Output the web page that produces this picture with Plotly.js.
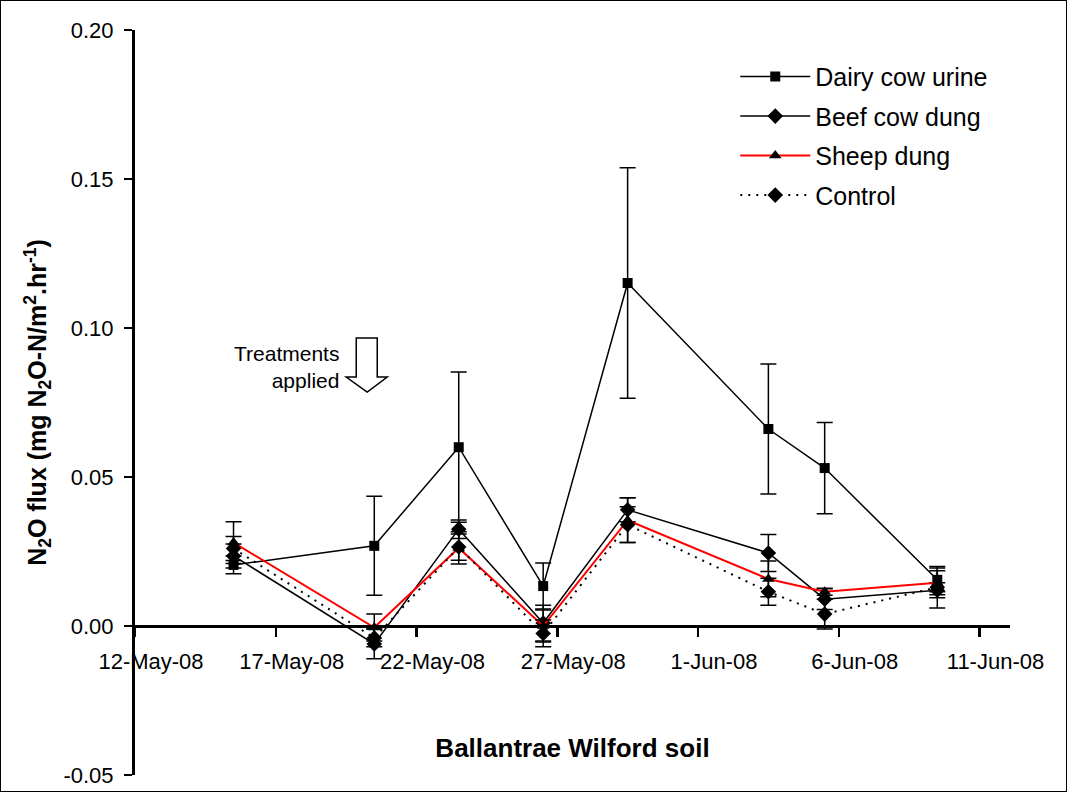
<!DOCTYPE html>
<html>
<head>
<meta charset="utf-8">
<script src="https://cdn.plot.ly/plotly-3.0.1.min.js"></script>
<style>
  html, body { margin: 0; padding: 0; background: #fff; }
  #frame { position: absolute; left: 0; top: 0; width: 1065px; height: 790px; border: 1px solid #000; }
  #chart { width: 1065px; height: 790px; }
</style>
</head>
<body>
<div id="frame"><div id="chart"></div></div>
<script>
// Sampling dates
const dates = ['2008-05-15 12:00','2008-05-20 12:00','2008-05-23 12:00','2008-05-26 12:00',
               '2008-05-29 12:00','2008-06-03 12:00','2008-06-05 12:00','2008-06-09 12:00'];

// N2O flux (mg N2O-N/m2.hr-1) and error bars
const dairyUrine    = [0.0205, 0.0269, 0.0600, 0.0134, 0.1151, 0.0661, 0.0530, 0.0155];
const dairyUrineErr = [0.0030, 0.0166, 0.0252, 0.0077, 0.0387, 0.0218, 0.0153, 0.0040];
const beefDung      = [0.0235, -0.0060, 0.0325, 0.0010, 0.0390, 0.0245, 0.0090, 0.0120];
const beefDungErr   = [0.0040, 0.0050, 0.0031, 0.0060, 0.0040, 0.0062, 0.0035, 0.0025];
const sheepDung     = [0.0280, -0.0005, 0.0262, 0.0000, 0.0355, 0.0158, 0.0115, 0.0145];
const sheepDungErr  = [0.0070, 0.0045, 0.0054, 0.0054, 0.0075, 0.0060, 0.0012, 0.0040];
const control       = [0.0260, -0.0040, 0.0265, -0.0025, 0.0340, 0.0115, 0.0040, 0.0130];
const controlErr    = [0.0040, 0.0030, 0.0044, 0.0045, 0.0060, 0.0045, 0.0050, 0.0070];

const seriesNames = ['Dairy cow urine', 'Beef cow dung', 'Sheep dung', 'Control'];
const xTickVals = ['2008-05-12','2008-05-17','2008-05-22','2008-05-27','2008-06-01','2008-06-06','2008-06-11'];
const xTickText = ['12-May-08','17-May-08','22-May-08','27-May-08','1-Jun-08','6-Jun-08','11-Jun-08'];
const yTickVals = [-0.05, 0, 0.05, 0.10, 0.15, 0.20];
const yTickText = ['-0.05', '0.00', '0.05', '0.10', '0.15', '0.20'];

const FONT = 'Liberation Sans, Arial, sans-serif';

function errBar(arr) {
  return { type: 'data', array: arr, visible: true, color: '#000', thickness: 1.5, width: 8 };
}

const traces = [
  { x: dates, y: dairyUrine, name: seriesNames[0], legendgroup: 'a', mode: 'lines+markers',
    line: { color: '#000', width: 1.5 },
    marker: { symbol: 'square', size: 10, color: '#000' },
    error_y: errBar(dairyUrineErr) },
  { x: dates, y: beefDung, name: seriesNames[1], legendgroup: 'b', mode: 'lines+markers',
    line: { color: '#000', width: 1.5 },
    marker: { symbol: 'diamond', size: 12, color: '#000' },
    error_y: errBar(beefDungErr) },
  { x: dates, y: sheepDung, name: seriesNames[2], legendgroup: 'c', mode: 'lines+markers',
    line: { color: '#ff0000', width: 2 },
    marker: { symbol: 'triangle-up', size: 11, color: '#000' },
    error_y: errBar(sheepDungErr) },
  { x: dates, y: control, name: seriesNames[3], legendgroup: 'd', mode: 'lines+markers',
    line: { color: '#000', width: 2, dash: '2px,6px' },
    marker: { symbol: 'diamond', size: 12, color: '#000' },
    error_y: errBar(controlErr) }
];

const layout = {
  width: 1065, height: 790,
  margin: { l: 134, r: 56, t: 29, b: 16, pad: 0 },
  paper_bgcolor: '#fff', plot_bgcolor: '#fff',
  font: { family: FONT, color: '#000', size: 22 },
  showlegend: true,
  legend: {
    x: 0.686, y: 0.968, xanchor: 'left', yanchor: 'top',
    font: { family: FONT, size: 25, color: '#000' },
    bgcolor: 'rgba(0,0,0,0)', borderwidth: 0,
    itemwidth: 70, tracegroupgap: 4
  },
  xaxis: {
    type: 'date',
    range: ['2008-05-12', '2008-06-12 02:00'],
    anchor: 'free', position: 0.2,
    tickmode: 'array', tickvals: xTickVals, ticktext: xTickText,
    ticks: 'outside', ticklen: 9, tickwidth: 2.5, tickcolor: '#000',
    ticklabelshift: 16, ticklabelstandoff: 6,
    showline: true, linewidth: 3, linecolor: '#000',
    showgrid: false, zeroline: false,
    tickfont: { family: FONT, size: 22, color: '#000' },
    title: { text: '<b>Ballantrae Wilford soil</b>', standoff: 65,
             font: { family: FONT, size: 26, color: '#000' } }
  },
  yaxis: {
    range: [-0.05, 0.20],
    tickmode: 'array', tickvals: yTickVals, ticktext: yTickText,
    ticks: 'outside', ticklen: 8, tickwidth: 2.5, tickcolor: '#000',
    ticklabelstandoff: 6,
    showline: true, linewidth: 3, linecolor: '#000',
    showgrid: false, zeroline: false,
    tickfont: { family: FONT, size: 22, color: '#000' },
    title: { text: '<b>N<sub>2</sub>O flux (mg N<sub>2</sub>O-N/m<sup>2</sup>.hr<sup>-1</sup>)</b>',
             standoff: 10, font: { family: FONT, size: 25, color: '#000' } }
  },
  annotations: [
    { xref: 'x', yref: 'y', x: '2008-05-20 06:00', y: 0.0868,
      xanchor: 'right', yanchor: 'middle', xshift: -26, align: 'right',
      showarrow: false, text: 'Treatments<br>applied',
      font: { family: FONT, size: 21, color: '#000' } }
  ],
  shapes: [
    { type: 'path', xref: 'x', yref: 'y', xsizemode: 'pixel', ysizemode: 'pixel',
      xanchor: '2008-05-20 06:00', yanchor: 0.0785,
      path: 'M 0 0 L -21 15 L -11 15 L -11 54 L 10 54 L 10 15 L 20 15 Z',
      line: { color: '#000', width: 1.5 }, fillcolor: '#fff' }
  ]
};

Plotly.newPlot('chart', traces, layout, { displayModeBar: false, staticPlot: true });
</script>
</body>
</html>
